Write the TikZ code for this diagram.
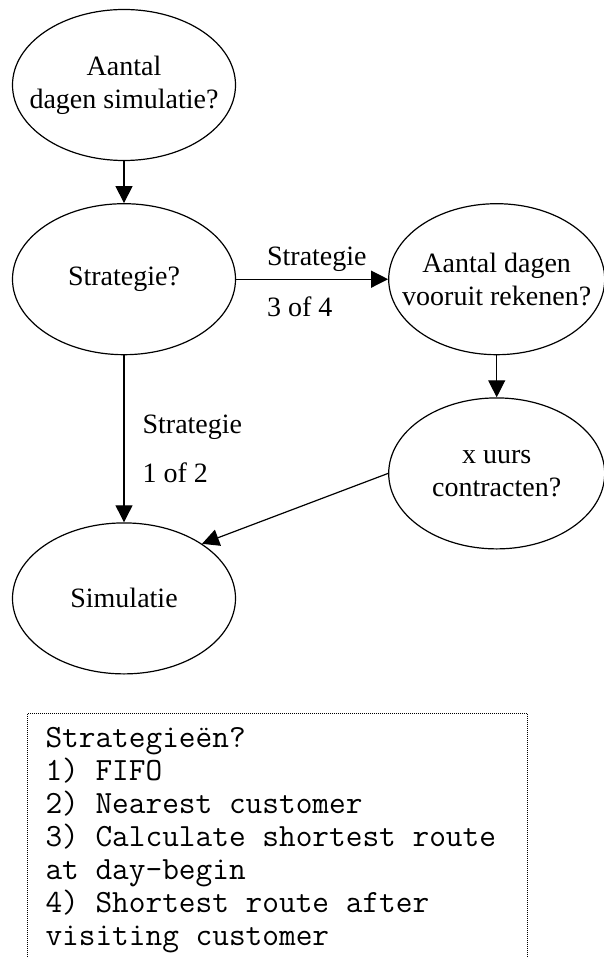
\documentclass[tikz,border=0pt]{standalone}
\usepackage{fontspec}
\setmainfont{Liberation Serif}
\usepackage{tikz}
\usetikzlibrary{arrows.meta,positioning,shapes.geometric}
\newcommand{\fullspaces}{\spaceskip=0pt\relax}
\tikzset{
  vraag/.style={
    draw,
    ellipse,
    line width=0.6pt,
    align=center,
    minimum width=111.5pt,
    minimum height=75.5pt,
    inner xsep=-10pt,
    inner ysep=0pt,
    font=\fontsize{14}{16.5}\selectfont
  },
  smallvraag/.style={
    vraag,
    minimum width=108pt
  },
  lbl/.style={inner sep=0pt, font=\fontsize{14}{16.5}\selectfont},
  notebox/.style={
    draw,
    dash pattern=on 0.5pt off 0.5pt,
    line width=0.5pt,
    align=left,
    text width=232pt,
    inner xsep=9pt,
    inner ysep=7pt,
    font=\ttfamily\fontsize{16.2}{16.5}\selectfont,
    execute at begin node=\fullspaces
  },
  arrow/.style={-{Triangle[length=8.5pt,width=8.5pt]}, line width=0.6pt},
}
\begin{document}
\begin{tikzpicture}[node distance=21pt and 76pt]
\useasboundingbox (0,0) rectangle (302pt,-478.5pt);
\clip (0,0) rectangle (302pt,-478.5pt);

% Questions
\node[vraag] (dagen) at (62pt,-42.5pt) {Aantal\\dagen simulatie?};
\node[vraag, below=of dagen] (strategie) {Strategie?};
\node[smallvraag, right=of strategie] (vooruit) {Aantal dagen\\vooruit rekenen?};
\node[smallvraag, below=of vooruit] (contract) {x uurs\\contracten?};
\node[vraag, below=83.5pt of strategie] (sim) {Simulatie};

\draw[arrow] (dagen) -- (strategie);
\draw[arrow] (strategie) -- (vooruit)
  node[lbl, pos=0.2, anchor=base west, yshift=7pt] (s34) {Strategie}
  node[lbl, pos=0.2, anchor=base west, yshift=-18.5pt] (n34) {3 of 4};
\draw[arrow] (vooruit) -- (contract);
\draw[arrow] (strategie) -- (sim)
  node[lbl, pos=0.467, anchor=base west, xshift=9pt] (s12) {Strategie}
  node[lbl, pos=0.76, anchor=base west, xshift=9pt] (n12) {1 of 2};
\draw[arrow] (contract.west) -- (sim.35);

% Strategy list
\node[notebox, anchor=north west] (lijst) at (13.5pt,-356.5pt) {Strategieën?\\1) FIFO\\2) Nearest customer\\3) Calculate shortest route\\at day-begin\\4) Shortest route after\\visiting customer};

\end{tikzpicture}
\end{document}
